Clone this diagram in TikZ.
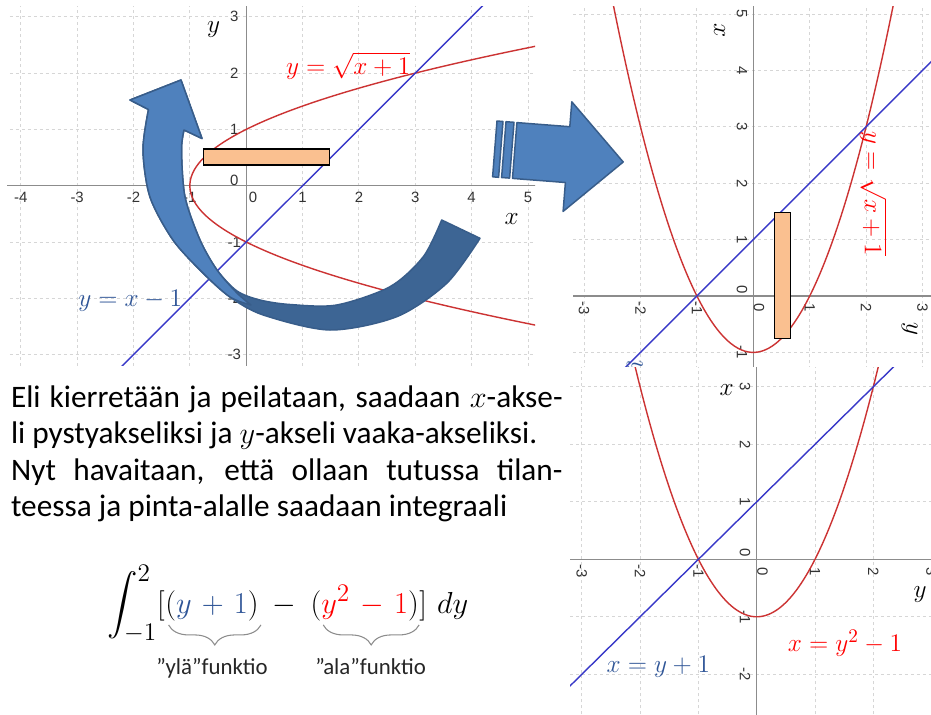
\documentclass[tikz,border=0pt]{standalone}
\usepackage{amsmath}
\usepackage{exscale}
\usepackage[no-math]{fontspec}
\setmainfont{Carlito}
\newfontfamily\ggfont{Liberation Sans}
\usetikzlibrary{positioning,decorations.pathreplacing}
\definecolor{punainen}{HTML}{CC3333}
\definecolor{sininen}{HTML}{3838C8}
\definecolor{kirkaspunainen}{HTML}{FF0000}
\definecolor{tummansininen}{HTML}{2F5597}
\definecolor{vaaleanharmaa}{HTML}{D6D6D6}
\definecolor{harmaa}{HTML}{8C8C8C}
\definecolor{tummanharmaa}{HTML}{333333}
\definecolor{nuoli}{HTML}{4F81BD}
\definecolor{nuolitumma}{HTML}{3D6594}
\definecolor{nuolenreuna}{HTML}{385D8A}
\definecolor{oranssi}{HTML}{FAC090}

% koordinaatisto: xmin, xmax, ymin, ymax, x-jaot, y-jaot
\newcommand\koordinaatisto[6]{%
  \foreach \k in {#5} {\draw[ruudukko] (\k,#3) -- (\k,#4);}
  \foreach \k in {#6} {\draw[ruudukko] (#1,\k) -- (#2,\k);}
  \draw[akseli] (#1,0) -- (#2,0);
  \draw[akseli] (0,#3) -- (0,#4);
  \foreach \k in {#5} {\ifnum\k=0 \else\node[luku] (lx\k) at (\k,-0.2) {\k};\fi}
  \foreach \k in {#6} {\ifnum\k=0 \else\node[luku] (ly\k) at (-0.21,\k) {\k};\fi}
  \node[luku] (lx0) at (0.12,-0.2) {0};
  \node[luku] (ly0) at (-0.21,0.1) {0};
}
\newcommand\kayrat{%
  \draw[kayra] plot[domain=-2.7:2.7, samples=90, smooth] ({\x*\x-1},\x);
  \draw[suora] (-3,-4) -- (6,5);
}
\newcommand\nimet{%
  \node[akselinimi] (nimiy) at (-0.58,2.77) {$y$};
  \node[akselinimi] (nimix) at (4.71,-0.6) {$x$};
  \node[yhtalo, text=kirkaspunainen] (juuri) at (1.81,2.13) {$y=\sqrt{x+1}$};
  \node[yhtalo, text=tummansininen] (suoranimi) at (-2.06,-2.05) {$y=x-1$};
}

\begin{document}
\begin{tikzpicture}[x=0.2mm, y=-0.2mm,
    ruudukko/.style={draw=vaaleanharmaa, line width=0.5pt, dash pattern=on 1.7pt off 1.7pt},
    akseli/.style={draw=harmaa, line width=0.7pt},
    luku/.style={font=\fontsize{8.5}{10}\selectfont\ggfont, text=tummanharmaa, inner sep=0pt},
    akselinimi/.style={font=\fontsize{15}{18}\selectfont, inner sep=0pt},
    yhtalo/.style={font=\fontsize{15}{18}\selectfont, inner sep=0pt},
    kayra/.style={draw=punainen, line width=0.8pt},
    suora/.style={draw=sininen, line width=0.8pt},
    suikale/.style={draw=black, line width=0.6pt, fill=oranssi},
    nuolireuna/.style={draw=nuolenreuna, line width=0.85pt, line join=round},
    kaava/.style={font={\fontsize{19}{23}\selectfont\medmuskip=6mu},
                  inner sep=0pt, anchor=base west},
    sulku/.style={draw=harmaa, line width=0.6pt, decorate,
                  decoration={brace, mirror, amplitude=4mm}},
    selite/.style={font=\fontsize{13}{15}\selectfont, text=black!85, inner sep=0pt}]
  \useasboundingbox[fill=white] (0,0) rectangle (931,714);

  % vasen kuva
  \begin{scope}
    \clip (7,7) rectangle (535,365);
    \begin{scope}[shift={(246.2,185.7)}, x=11.27mm, y=11.26mm]
      \koordinaatisto{-4.3}{5.2}{-3.3}{3.3}{-4,...,5}{-3,...,3}
      \kayrat
      \draw[suikale] (-0.76,0.368) rectangle (1.485,0.652);
      \nimet
    \end{scope}
  \end{scope}

  % oikea ylakuva: peilattu, tekstit kierretty
  \begin{scope}
    \clip (573,7) rectangle (931,366);
    \begin{scope}[shift={(753.3,296)}, cm={0,1,1,0,(0,0)}, x=11.28mm, y=11.28mm,
        luku/.append style={rotate=-90}, akselinimi/.append style={rotate=-90},
        yhtalo/.append style={rotate=-90}]
      \koordinaatisto{-1.3}{5.2}{-3.3}{3.3}{-1,...,5}{-3,...,3}
      \kayrat
      \draw[suikale] (-0.76,0.368) rectangle (1.485,0.652);
      \nimet
    \end{scope}
  \end{scope}

  % oikea alakuva
  \begin{scope}
    \clip (570,367) rectangle (931,714);
    \begin{scope}[shift={(756.7,559.3)}, cm={0,1,1,0,(0,0)}, x=11.5mm, y=11.66mm,
        luku/.append style={rotate=-90}]
      \koordinaatisto{-2.8}{3.4}{-3.3}{3.1}{-2,...,3}{-3,...,3}
      \kayrat
    \end{scope}
  \end{scope}
  \node[akselinimi] (nimix2) at (726.7,390) {$x$};
  \node[akselinimi] (nimiy2) at (920,595) {$y$};
  \node[yhtalo, text=tummansininen] (suoranimi2) at (658.3,667) {$x=y+1$};
  \node[yhtalo, text=kirkaspunainen] (paraabeli) at (845,643) {$x=y^2-1$};

  % kaareva nuoli
  \draw[nuolireuna, fill=nuolitumma] (181,80) -- (202,138.5) -- (184,130)
    -- plot[smooth] coordinates {(184,130) (181.5,150) (185,197) (200,240)
       (217,270) (237,291) (260,300) (290,304.5) (336.7,305) (390,286.7)
       (423.3,256.7) (441.7,220)}
    -- (480,238.3)
    -- plot[smooth] coordinates {(480,238.3) (446.7,283.3) (396.7,316.7)
       (330,330) (263.3,315) (230,297) (203,273) (173,240) (150,197)
       (143,150) (148.5,109.5)}
    -- (130,100) -- cycle;
  \draw[nuolireuna, fill=nuoli] (181,80) -- (202,138.5) -- (184,130)
    -- plot[smooth] coordinates {(184,130) (181.5,150) (185,197) (200,240)
       (217,270) (237,293) (251,305)}
    -- plot[smooth] coordinates {(251,305) (230,297) (203,273) (173,240)
       (150,197) (143,150) (148.5,109.5)}
    -- (130,100) -- cycle;

  % raidallinen nuoli
  \draw[nuolireuna, fill=nuoli] (497,121) -- (503,121.5) -- (498.6,177.3)
    -- (492.6,176.8) -- cycle;
  \draw[nuolireuna, fill=nuoli] (506,121.7) -- (514,122.3) -- (509.6,178.1)
    -- (501.6,177.5) -- cycle;
  \draw[nuolireuna, fill=nuoli] (516.9,122.6) -- (569.8,126.7) -- (571.8,101.8)
    -- (623.2,162) -- (563.1,211.4) -- (565.4,182.5) -- (512.5,178.4) -- cycle;

  % teksti
  \node[anchor=base west, inner sep=0, text width=110.3mm, align=justify,
        font=\fontsize{17.8}{20.6}\selectfont] (teksti) at (10.7,407.7)
    {Eli kierretään ja peilataan, saadaan $x$-akse-\linebreak
     li pystyakseliksi ja $y$-akseli vaaka-akseliksi.\newline
     Nyt havaitaan, että ollaan tutussa tilan-\linebreak
     teessa ja pinta-alalle saadaan integraali};

  % integraali osina, jotta aaltosulut osuvat kohdalleen
  \node[kaava] (intosa) at (107,613) {$\displaystyle\int_{-1}^{2}[$};
  \node[kaava] (ylaosa) at (intosa.base east)
    {$(\textcolor{tummansininen}{y+1})$};
  \node[kaava] (miinus) at (ylaosa.base east)
    {$\mskip8mu{-}\mskip8mu$};
  \node[kaava] (alaosa) at (miinus.base east)
    {$(\textcolor{kirkaspunainen}{y^2-1})$};
  \node[kaava] (loppuosa) at (alaosa.base east) {$]\,\,dy$};
  \draw[sulku] ([xshift=0.7mm,yshift=-0.8mm]ylaosa.south west)
    -- ([xshift=0.4mm,yshift=-0.8mm]ylaosa.south east);
  \draw[sulku] ([xshift=2.6mm,yshift=-0.8mm]alaosa.south west)
    -- ([xshift=0mm,yshift=-0.8mm]alaosa.south east);
  \node[selite, below=7.4mm of ylaosa] (ylaf) {”ylä”funktio};
  \node[selite, below=7.4mm of alaosa, xshift=1.2mm] (alaf) {”ala”funktio};
\end{tikzpicture}
\end{document}
